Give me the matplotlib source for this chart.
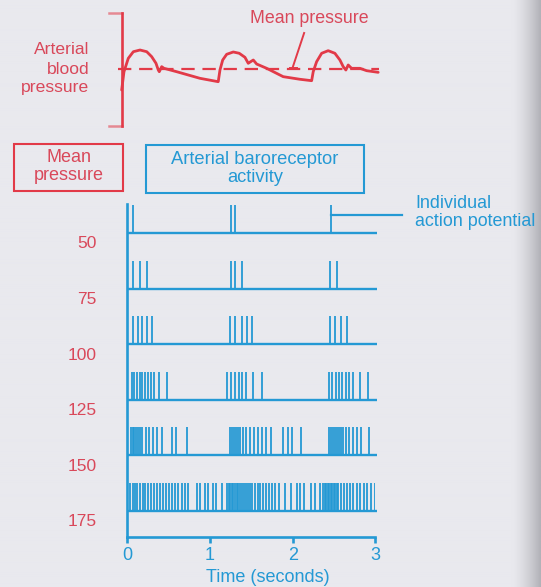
import numpy as np
import matplotlib
matplotlib.use("Agg")
import matplotlib.pyplot as plt
from matplotlib.patches import Rectangle

plt.rcParams["font.family"] = ["Liberation Sans", "DejaVu Sans"]

# ---------------------------------------------------------------- data
# Arterial pressure trace (time in s, pressure in mmHg)
pressure_t = [-0.068, -0.040, 0.012, 0.073, 0.154, 0.235, 0.295, 0.347, 0.375,
              0.387, 0.416, 0.444, 0.597, 0.879, 1.100,
              1.121, 1.154, 1.202, 1.282, 1.354, 1.423, 1.463, 1.492, 1.524,
              1.565, 1.686, 1.886, 2.088, 2.230,
              2.249, 2.290, 2.351, 2.430, 2.511, 2.572, 2.612, 2.644, 2.672,
              2.713, 2.814, 2.895, 3.035]
pressure_p = [63.7, 96.1, 119.8, 131.5, 134.5, 131.5, 122.7, 111.0, 99.1,
              96.1, 105.0, 102.1, 96.1, 84.4, 78.4,
              99.1, 116.8, 126.9, 131.0, 128.7, 121.6, 111.0, 113.8, 116.8,
              109.7, 102.1, 87.3, 82.7, 80.2,
              96.1, 113.8, 128.7, 133.3, 128.7, 116.8, 105.0, 99.1, 108.0,
              102.1, 102.1, 97.9, 95.0]
mean_pressure = 100

# Baroreceptor firing (spike times, s) at each mean pressure (mmHg)
pressure_levels = ["50", "75", "100", "125", "150", "175"]
spikes_50 = [0.073, 1.25, 1.30, 2.46]
spikes_75 = [0.073, 0.153, 0.242, 1.25, 1.30, 1.39, 2.45, 2.54]
spikes_100 = [0.073, 0.126, 0.178, 0.235, 0.295,
              1.242, 1.302, 1.383, 1.444, 1.508,
              2.451, 2.511, 2.580, 2.653]
spikes_125 = [0.053, 0.085, 0.117, 0.150, 0.181, 0.214, 0.247, 0.287, 0.319,
              0.387, 0.476,
              1.209, 1.254, 1.302, 1.351, 1.391, 1.439, 1.520, 1.625,
              2.439, 2.479, 2.520, 2.560, 2.600, 2.641, 2.681, 2.733, 2.814,
              2.914]
spikes_150 = [0.045, 0.065, 0.085, 0.105, 0.126, 0.154, 0.181, 0.222, 0.262,
              0.314, 0.363, 0.423, 0.537, 0.585, 0.718,
              1.242, 1.266, 1.290, 1.314, 1.339, 1.369, 1.405, 1.441, 1.484,
              1.532, 1.580, 1.629, 1.677, 1.738, 1.883, 1.943, 1.991, 2.100,
              2.439, 2.463, 2.487, 2.511, 2.535, 2.559, 2.584, 2.614, 2.644,
              2.680, 2.729, 2.777, 2.832, 2.923]
spikes_175 = [0.033, 0.063, 0.093, 0.123, 0.154, 0.184, 0.214, 0.250, 0.287,
              0.323, 0.360, 0.396, 0.432, 0.468, 0.505, 0.541, 0.577, 0.619,
              0.661, 0.704, 0.740, 0.843, 0.885, 0.940, 0.982, 1.036, 1.073,
              1.145,
              1.212, 1.230, 1.248, 1.266, 1.284, 1.303, 1.321, 1.339, 1.363,
              1.387, 1.412, 1.436, 1.460, 1.484, 1.514, 1.544, 1.575, 1.605,
              1.641, 1.677, 1.714, 1.750, 1.792, 1.835, 1.907, 1.980, 2.052,
              2.088, 2.137, 2.227, 2.269, 2.330,
              2.372, 2.390, 2.409, 2.427, 2.445, 2.463, 2.481, 2.499, 2.517,
              2.535, 2.553, 2.584, 2.620, 2.656, 2.692, 2.735, 2.777, 2.819,
              2.862, 2.904, 2.946, 2.994]
spike_trains = [spikes_50, spikes_75, spikes_100, spikes_125, spikes_150, spikes_175]
time_ticks = [0, 1, 2, 3]

# ---------------------------------------------------------------- style
W, H = 541, 587
BG = "#e9e9ee"
BLUE = "#2499d4"
RED_LINE = "#e23a48"
RED_TEXT = "#d9485a"


def fx(px):
    return px / W


def fy(py):
    return 1 - py / H


fig = plt.figure(figsize=(W / 100, H / 100), dpi=100, facecolor=BG)

# soft darkening at the right-hand page edge
bg_ax = fig.add_axes([0, 0, 1, 1], zorder=-10)
bg_ax.axis("off")
xs = np.linspace(0, W, W)
shade = np.clip((xs - 512) / (W - 512), 0, 1) ** 1.5
base = np.array([233, 233, 238]) / 255
edge = np.array([178, 178, 184]) / 255
row = base[None, :] * (1 - shade[:, None]) + edge[None, :] * shade[:, None]
bg_ax.imshow(np.repeat(row[None, :, :], 10, axis=0), aspect="auto",
             extent=[0, 1, 0, 1], interpolation="bilinear")
bg_ax.set_xlim(0, 1)
bg_ax.set_ylim(0, 1)

# shared time mapping: t=0 at px 127.3, t=3 at px 375.3
x0_px, x3_px = 127.3, 375.3

# ---------------------------------------------------------------- pressure panel
ax_p = fig.add_axes([fx(x0_px), fy(126), fx(x3_px) - fx(x0_px), (126 - 13) / H])
ax_p.set_xlim(0, 3)
ax_p.set_ylim(0, 200)
ax_p.axis("off")
ax_p.patch.set_alpha(0)

ax_p.plot([-0.068, -0.068], [0, 200], color=RED_LINE, lw=1.9, clip_on=False)
for yv in (0, 200):
    ax_p.plot([-0.225, -0.068], [yv, yv], color=RED_LINE, lw=1.8, alpha=0.55,
              clip_on=False)
ax_p.plot([-0.11, 3.04], [mean_pressure, mean_pressure], color=RED_LINE, lw=1.6,
          dashes=(6, 3.5), clip_on=False)
ax_p.plot(pressure_t, pressure_p, color=RED_LINE, lw=2.0, clip_on=False,
          solid_joinstyle="round", solid_capstyle="round")
ax_p.plot([2.139, 2.003], [164.6, 104.8], color=RED_LINE, lw=1.4, clip_on=False)
ax_p.plot([1.97, 2.05], [103, 103], color=RED_LINE, lw=1.4, clip_on=False)

fig.text(fx(309), fy(18.5), "Mean pressure", color=RED_TEXT, fontsize=12.8,
         ha="center", va="center")
for word, py in zip(["Arterial", "blood", "pressure"], [50, 69, 87.5]):
    fig.text(fx(89.5), fy(py), word, color=RED_TEXT, fontsize=12.6,
             ha="right", va="center")

# ---------------------------------------------------------------- header boxes
fig.add_artist(Rectangle((fx(14), fy(190.7)), fx(122.7) - fx(14), (190.7 - 144) / H,
                         transform=fig.transFigure, fill=False,
                         edgecolor=RED_LINE, lw=1.5))
fig.text(fx(68.5), fy(157), "Mean", color=RED_TEXT, fontsize=13,
         ha="center", va="center")
fig.text(fx(68.5), fy(175), "pressure", color=RED_TEXT, fontsize=13,
         ha="center", va="center")

fig.add_artist(Rectangle((fx(146), fy(192.7)), fx(364) - fx(146), (192.7 - 145) / H,
                         transform=fig.transFigure, fill=False,
                         edgecolor=BLUE, lw=1.5))
fig.text(fx(255), fy(160), "Arterial baroreceptor", color=BLUE, fontsize=13.2,
         ha="center", va="center")
fig.text(fx(255), fy(177), "activity", color=BLUE, fontsize=13.2,
         ha="center", va="center")

# ---------------------------------------------------------------- spike trains
unit = 55.6  # px per trace row
ax = fig.add_axes([fx(x0_px), fy(537), fx(x3_px) - fx(x0_px), (537 - 204) / H])
ax.patch.set_alpha(0)
ax.set_xlim(0, 3)
ax.set_ylim(0, (537 - 204) / unit)
for side in ("top", "right"):
    ax.spines[side].set_visible(False)
for side in ("left", "bottom"):
    ax.spines[side].set_color(BLUE)
    ax.spines[side].set_linewidth(1.9)
ax.set_yticks([])
ax.set_xticks(time_ticks)
ax.set_xticklabels([str(t) for t in time_ticks])
ax.tick_params(axis="x", direction="out", length=4.5, width=1.9, color=BLUE,
               labelcolor=BLUE, labelsize=13, pad=3)

spike_h = 28 / unit
top_row = (537 - 233) / unit
for i, (label, train) in enumerate(zip(pressure_levels, spike_trains)):
    yb = top_row - i
    ax.plot([0, 3.02], [yb, yb], color=BLUE, lw=1.7, clip_on=False,
            solid_capstyle="butt")
    ax.vlines(train, yb, yb + spike_h, color=BLUE, lw=1.3)
    ax.text(-0.37, yb - 11 / unit, label, color=RED_TEXT, fontsize=12.5,
            ha="right", va="center")

# pointer to a single action potential
y_ptr = (537 - 215) / unit
ax.plot([spikes_50[-1], 3.32], [y_ptr, y_ptr], color=BLUE, lw=1.6, clip_on=False)
fig.text(fx(415), fy(203.5), "Individual", color=BLUE, fontsize=12.9,
         ha="left", va="center")
fig.text(fx(415), fy(221.5), "action potential", color=BLUE, fontsize=12.9,
         ha="left", va="center")

fig.text(fx(268), fy(578), "Time (seconds)", color=BLUE, fontsize=13,
         ha="center", va="center")

fig.savefig("out.png", dpi=100, facecolor=BG)
